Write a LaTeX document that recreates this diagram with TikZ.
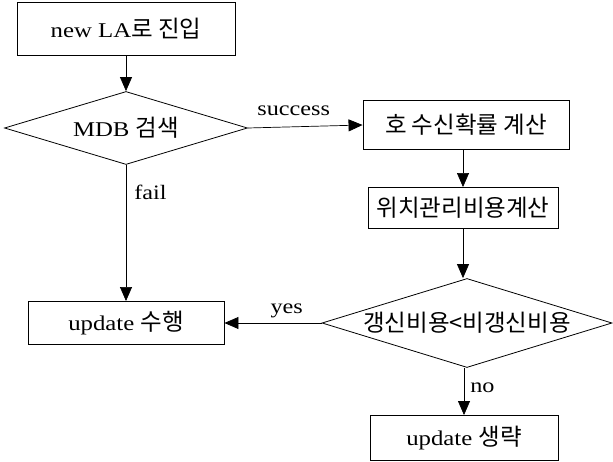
\documentclass[tikz,border=0pt]{standalone}
\usepackage{fontspec}
\setmainfont[FakeStretch=1.18]{Liberation Serif}
\newfontfamily\kr{Noto Sans CJK KR}
\usetikzlibrary{shapes.geometric,arrows.meta}
\def\lcolor{black}
\def\krsize{\fontsize{23.5}{25}\selectfont}

\begin{document}
\begin{tikzpicture}[x=1pt, y=1pt, font=\fontsize{21}{23}\selectfont, block/.style={rectangle, draw, line width=0.9pt, inner sep=2pt}, decision/.style={diamond, aspect=3.3, draw, line width=0.8pt, inner sep=0pt}, flow/.style={line width=0.7pt, -{Triangle[width=12pt,length=14pt]}}, lbl/.style={font=\fontsize{20.5}{22}\selectfont, inner sep=3pt}]
  \useasboundingbox (0,0) rectangle (613,461);

  \node[block, minimum width=218pt, minimum height=53pt] (newla) at (126,432) {new LA{\kr\krsize 로 진입}};
  \node[decision, minimum width=243pt, minimum height=73pt] (mdb) at (126,333) {MDB {\kr\krsize 검색}};
  \node[block, minimum width=206pt, minimum height=49pt] (rcvprob) at (466,336) {\kr\krsize 호 수신확률 계산};
  \node[block, minimum width=190pt, minimum height=41pt] (lmcost) at (463,253) {\kr\krsize 위치관리비용계산};
  \node[decision, minimum width=290pt, minimum height=89pt] (costcmp) at (467,138) {\kr\krsize 갱신비용<비갱신비용};
  \node[block, minimum width=196pt, minimum height=43pt] (doupdate) at (126,138) {update {\kr\krsize 수행}};
  \node[block, minimum width=188pt, minimum height=45pt] (skipupdate) at (464,23) {update {\kr\krsize 생략}};

  \draw[\lcolor, flow] (newla) -- (mdb);
  \draw[\lcolor, flow] (mdb.east) -- node[lbl, above=8pt, pos=0.4] (succsignal) {success} (rcvprob.west);
  \draw[\lcolor, flow] (mdb.south) -- node[lbl, right=5pt, pos=0.2] (failsignal) {fail} (doupdate.north);
  \draw[\lcolor, flow] (rcvprob.south -| lmcost.north) -- (lmcost.north);
  \draw[\lcolor, flow] (lmcost.south) -- (lmcost.south |- costcmp.north);
  \draw[\lcolor, flow] (costcmp.west) -- node[lbl, above=2pt, pos=0.36] (yessignal) {yes} (doupdate.east);
  \draw[\lcolor, flow] (costcmp.south -| skipupdate.north) -- node[lbl, right=3pt, pos=0.42] (nosignal) {no} (skipupdate.north);
  \end{tikzpicture}
\end{document}
